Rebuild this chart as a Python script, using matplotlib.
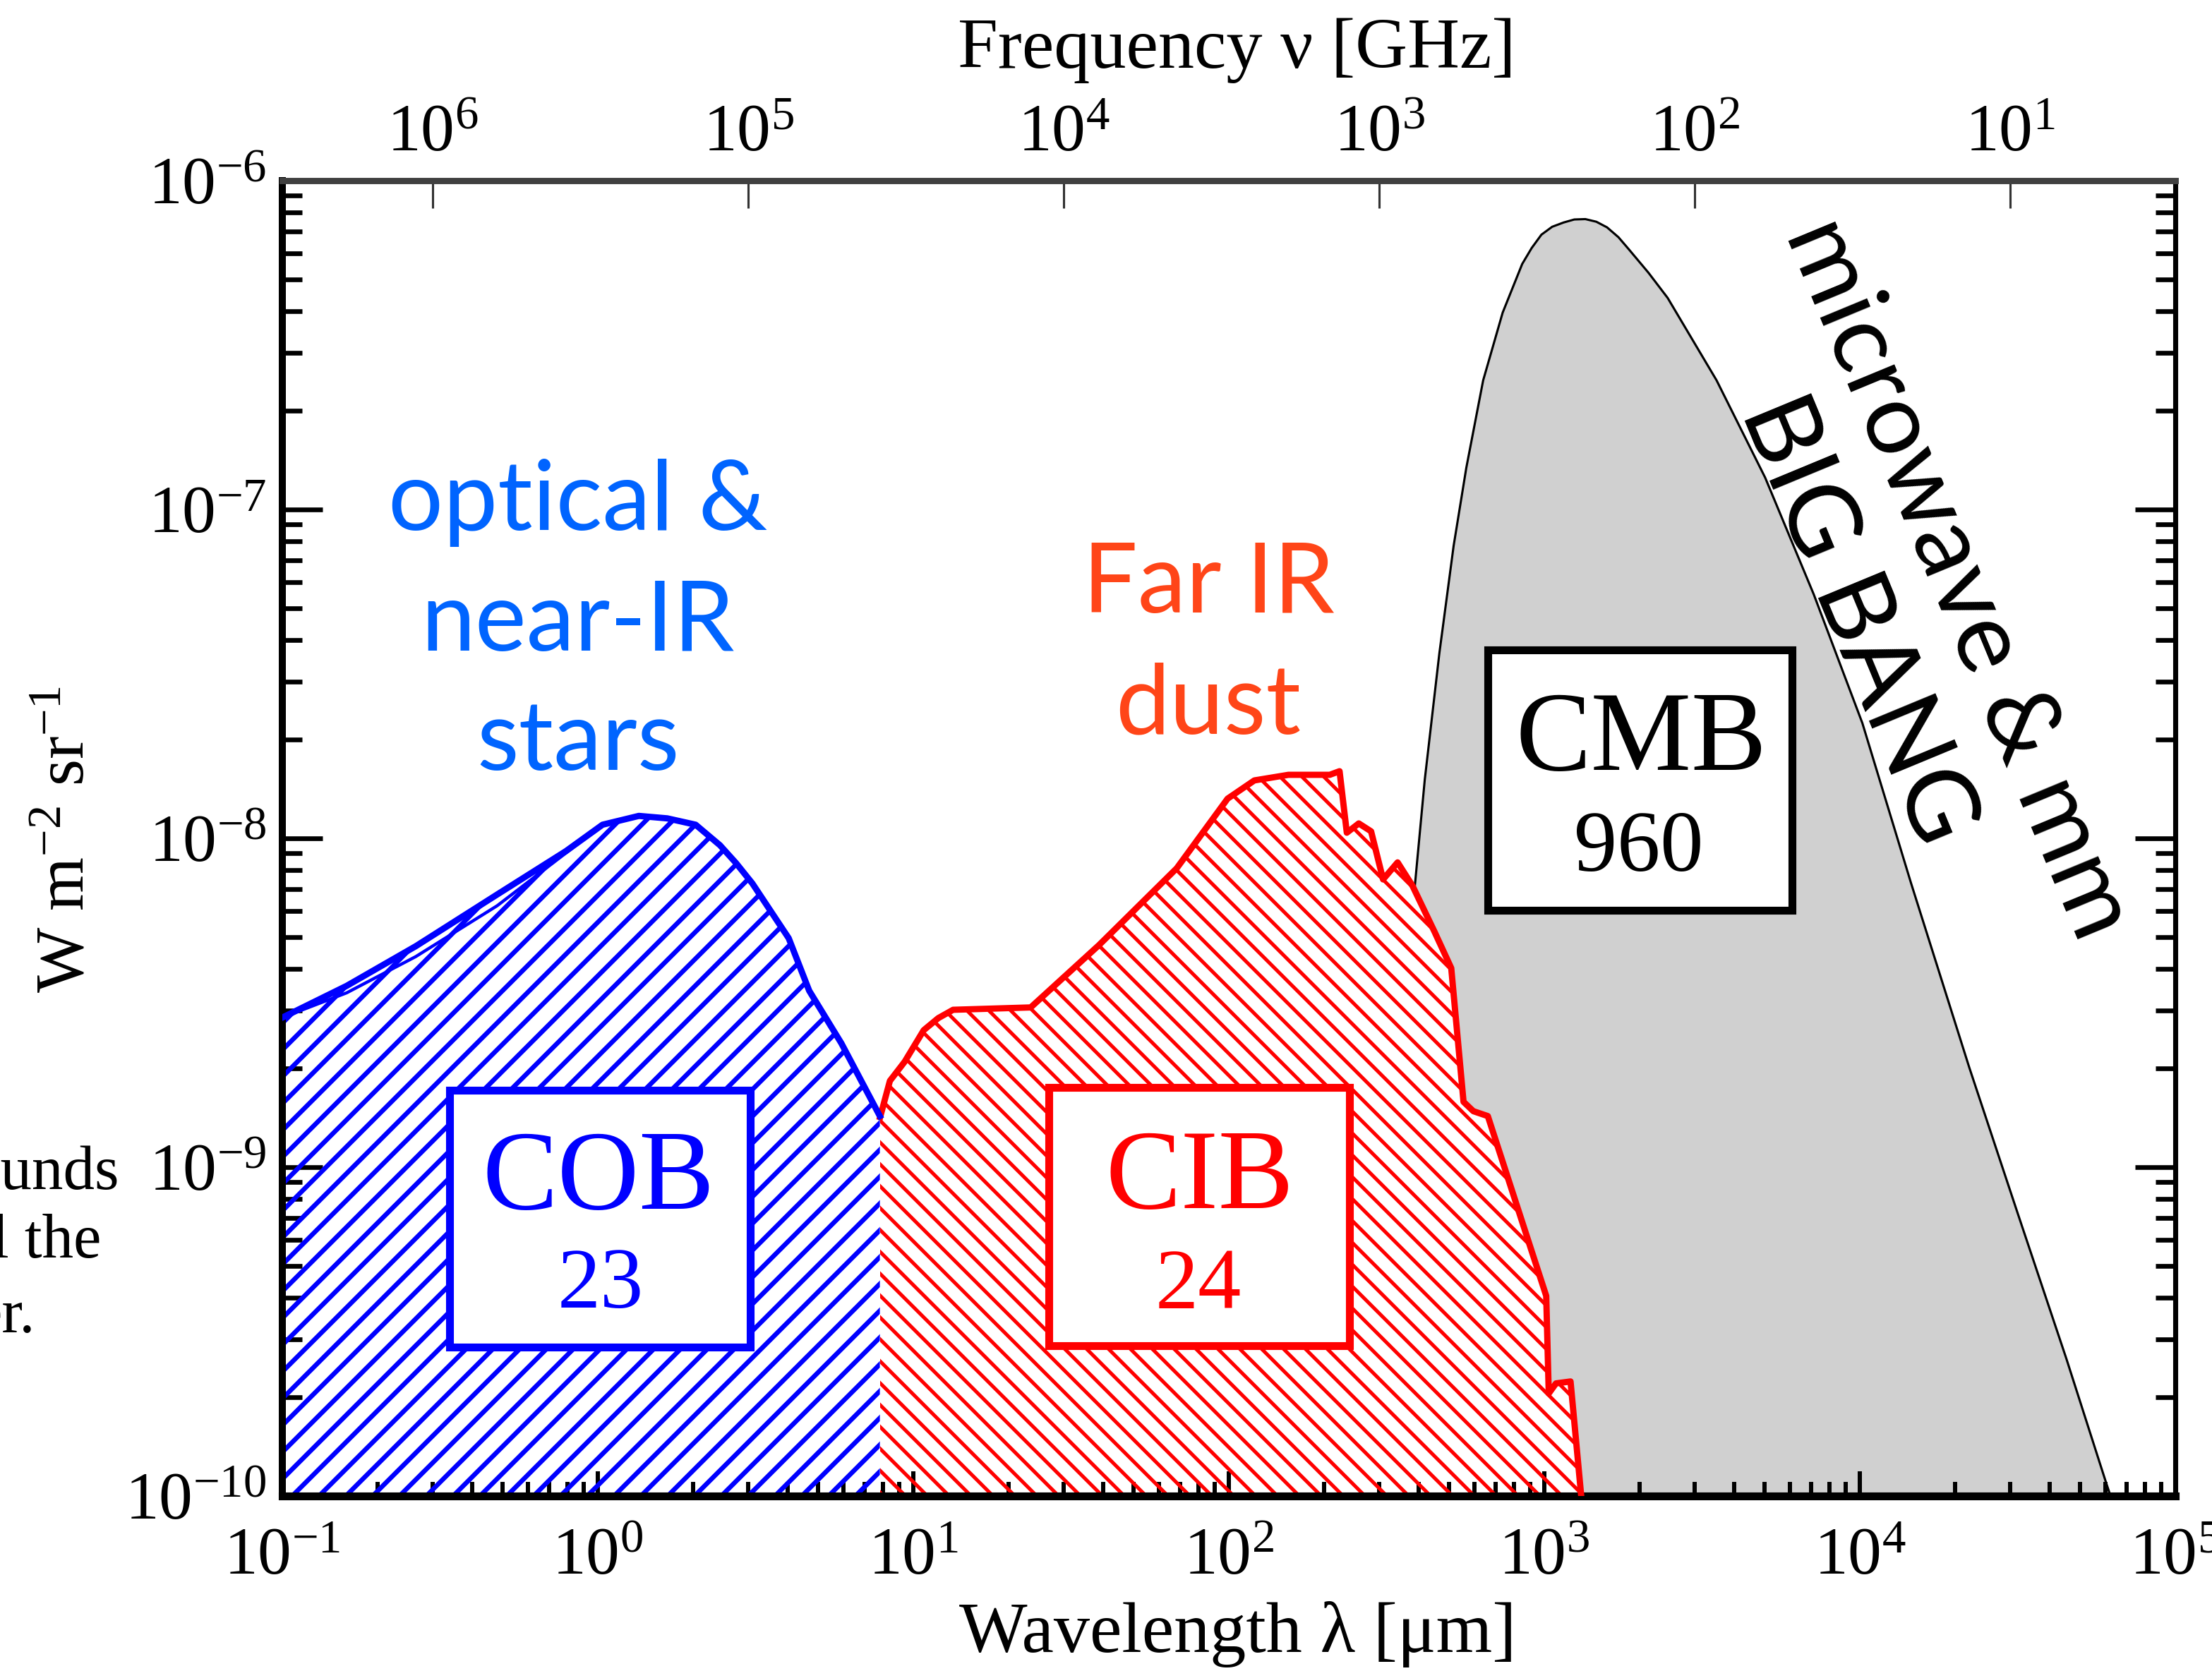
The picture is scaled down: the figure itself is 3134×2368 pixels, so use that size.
import numpy as np
import matplotlib
matplotlib.use("Agg")
import matplotlib.pyplot as plt
from matplotlib.ticker import LogLocator, FuncFormatter, NullFormatter, NullLocator
from matplotlib.patches import Rectangle
from matplotlib.collections import LineCollection

# optical/near-IR background (COB): wavelength [um], nu I_nu [W m^-2 sr^-1]
cob_lam = [0.100, 0.160, 0.265, 0.480, 0.792, 1.035, 1.349, 1.660, 2.042, 2.438,
           2.742, 3.090, 4.027, 4.677, 5.916, 7.834]
cob_val = [2.85e-9, 3.56e-9, 4.70e-9, 6.75e-9, 9.14e-9, 1.10e-8, 1.17e-8, 1.15e-8,
           1.10e-8, 9.53e-9, 8.41e-9, 7.29e-9, 4.97e-9, 3.44e-9, 2.38e-9, 1.43e-9]
# lower COB estimate (thin inner line)
cob_low_lam = [0.100, 0.160, 0.265, 0.480, 0.792, 1.035]
cob_low_val = [2.85e-9, 3.39e-9, 4.37e-9, 6.24e-9, 9.02e-9, 1.10e-8]

# far-IR background (CIB)
cib_lam = [7.85, 8.43, 9.38, 10.79, 12.0, 13.37, 23.55, 38.73, 68.39, 99.1, 120.5,
           154.5, 208.9, 224.4, 236.6, 258.2, 282.5, 308.3, 342.8, 381.9, 448.7,
           507.0, 554.6, 595.7, 662.2, 1014, 1033, 1089, 1211, 1324]
cib_val = [1.42e-9, 1.83e-9, 2.09e-9, 2.61e-9, 2.84e-9, 3.01e-9, 3.06e-9, 4.73e-9,
           8.11e-9, 1.32e-8, 1.50e-8, 1.56e-8, 1.56e-8, 1.60e-8, 1.04e-8, 1.11e-8,
           1.05e-8, 7.50e-9, 8.45e-9, 7.18e-9, 5.20e-9, 4.03e-9, 1.58e-9, 1.48e-9,
           1.43e-9, 4.06e-10, 2.05e-10, 2.20e-10, 2.23e-10, 8.9e-11]

# cosmic microwave background (CMB)
cmb_lam = [251, 282, 316, 355, 390, 418, 465, 516, 566, 640, 738, 851, 912, 979,
           1059, 1151, 1245, 1349, 1462, 1581, 1718, 1854, 2138, 2460, 3516, 5012,
           7145, 10190, 14520, 22230, 31700, 45190, 60120, 67600]
cmb_val = [1e-11, 8.9e-11, 5.6e-10, 2.8e-9, 7.41e-9, 1.51e-8, 3.66e-8, 7.76e-8,
           1.34e-7, 2.47e-7, 3.97e-7, 5.58e-7, 6.24e-7, 6.85e-7, 7.24e-7, 7.46e-7,
           7.62e-7, 7.64e-7, 7.50e-7, 7.21e-7, 6.73e-7, 6.18e-7, 5.25e-7, 4.40e-7,
           2.47e-7, 1.25e-7, 5.52e-8, 2.24e-8, 7.33e-9, 2.01e-9, 7.21e-10, 2.61e-10,
           1.11e-10, 7.9e-11]

# integrated intensities [nW m^-2 sr^-1]
box_names = ["COB", "CIB", "CMB"]
box_values = ["23", "24", "960"]

plt.rcParams['font.family'] = ['Liberation Serif', 'DejaVu Serif']
plt.rcParams['mathtext.fontset'] = 'custom'
plt.rcParams['mathtext.rm'] = 'Liberation Serif'
plt.rcParams['mathtext.it'] = 'Liberation Serif:italic'

DPI = 160
FIG_W, FIG_H = 3134, 2368
AX_RECT = [0.12763, 0.10473, 0.85578, 0.78716]
fig = plt.figure(figsize=(FIG_W / DPI, FIG_H / DPI), dpi=DPI)
ax = fig.add_axes(AX_RECT)
ax.set_xscale('log')
ax.set_yscale('log')
ax.set_xlim(0.1, 1e5)
ax.set_ylim(1e-10, 1e-6)

floor = 1e-10


def hatch(poly, spacing, slope, color, lw):
    # diagonal hatch lines (horizontal spacing in pixels), clipped to the filled area
    W = AX_RECT[2] * FIG_W
    H = AX_RECT[3] * FIG_H
    segs = []
    for c in np.arange(-H - W, W + H, spacing):
        if slope > 0:
            segs.append([(c / W, 0), ((c + H) / W, 1)])
        else:
            segs.append([(c / W, 1), ((c + H) / W, 0)])
    lc = LineCollection(segs, colors=color, linewidths=lw, transform=ax.transAxes,
                        zorder=1.6)
    lc.set_clip_path(poly.get_paths()[0], ax.transData)
    ax.add_collection(lc, autolim=False)
    lc.set_clip_box(ax.bbox)


# CMB grey area
ax.fill_between(cmb_lam, cmb_val, floor, facecolor='#d0d0d0', edgecolor='none', zorder=1)
ax.plot(cmb_lam, cmb_val, color='black', lw=1.4, zorder=1.2)

# CIB hatched area
cib_fill = ax.fill_between(cib_lam, cib_val, floor, facecolor='white', edgecolor='none',
                           zorder=1.5)
hatch(cib_fill, 31, -1, '#ff0000', 2.3)
ax.plot(cib_lam, cib_val, color='#ff0000', lw=4.0, solid_joinstyle='round', zorder=3)

# COB hatched area
cob_fill = ax.fill_between(cob_lam, cob_val, floor, facecolor='white', edgecolor='none',
                           zorder=1.5)
hatch(cob_fill, 38, 1, '#0000ff', 3.0)
ax.plot(cob_lam, cob_val, color='#0000ff', lw=4.0, solid_joinstyle='round', zorder=3)
ax.plot(cob_low_lam, cob_low_val, color='#0000ff', lw=2.0, zorder=3)

# boxes with integrated intensities
box_specs = [((0.0882, 0.1132), 0.1590, 0.1953, '#0000ff', (0.1669, 0.2393), (0.1680, 0.1593)),
             ((0.4049, 0.1141), 0.1587, 0.1965, '#ff0000', (0.4847, 0.2398), (0.4840, 0.1584)),
             ((0.6370, 0.4453), 0.1605, 0.1977, 'black', (0.7178, 0.5730), (0.7166, 0.4914))]
for name, val, (xy, w, h, col, p1, p2) in zip(box_names, box_values, box_specs):
    ax.add_patch(Rectangle(xy, w, h, transform=ax.transAxes, facecolor='white',
                           edgecolor=col, lw=5, zorder=4))
    ax.text(p1[0], p1[1], name, transform=ax.transAxes, color=col, fontsize=72,
            ha='center', va='center', zorder=5)
    ax.text(p2[0], p2[1], val, transform=ax.transAxes, color=col, fontsize=55,
            ha='center', va='center', zorder=5)

# coloured annotations
sans = ['Lato', 'DejaVu Sans']
blue_txt = '#0064ff'
orange_txt = '#ff4518'
for s, yb in zip(["optical &", "near-IR", "stars"], [0.7342, 0.6428, 0.5518]):
    ax.text(0.1562, yb, s, transform=ax.transAxes, color=blue_txt, fontsize=62,
            family=sans, ha='center', va='baseline', zorder=5)
for s, yb in zip(["Far IR", "dust"], [0.6716, 0.5796]):
    ax.text(0.4892, yb, s, transform=ax.transAxes, color=orange_txt, fontsize=62,
            family=sans, ha='center', va='baseline', zorder=5)
ax.text(0.8853, 0.6977, "microwave & mm", transform=ax.transAxes, color='black',
        fontsize=64, family=sans, rotation=-67.5, ha='center', va='center', zorder=5)
ax.text(0.8320, 0.6660, "BIG BANG", transform=ax.transAxes, color='black',
        fontsize=64, family=sans, rotation=-67.5, ha='center', va='center', zorder=5)


def pow10(v, pos):
    return r'$\mathregular{10^{%d}}$' % int(round(np.log10(v)))


for axis in (ax.xaxis, ax.yaxis):
    axis.set_major_locator(LogLocator(base=10, numticks=20))
    axis.set_minor_locator(LogLocator(base=10, subs=np.arange(2, 10), numticks=20))
    axis.set_major_formatter(FuncFormatter(pow10))
    axis.set_minor_formatter(NullFormatter())

ax.tick_params(axis='y', which='both', direction='in', left=True, right=True,
               labelsize=43, pad=10)
ax.tick_params(axis='y', which='major', length=25.6, width=3.0)
ax.tick_params(axis='y', which='minor', length=12.4, width=3.0)
ax.tick_params(axis='x', which='both', direction='in', bottom=True, top=False,
               labelsize=43, pad=20)
ax.tick_params(axis='x', which='major', length=15.8, width=2.7)
ax.tick_params(axis='x', which='minor', length=9, width=2.7)

ax.spines['left'].set_linewidth(4.5)
ax.spines['bottom'].set_linewidth(5)
ax.spines['right'].set_linewidth(3.2)
ax.spines['top'].set_visible(False)

ax.set_xlabel("Wavelength λ [μm]", fontsize=46, va='center')
ax.xaxis.set_label_coords(0.5046, -0.1052)
ax.set_ylabel(r"W m$^{-2}$ sr$^{-1}$", fontsize=44, va='center')
ax.yaxis.set_label_coords(-0.1140, 0.499)

# frequency axis on top: nu[GHz] = 3e5 / lambda[um]
ax2 = ax.twiny()
ax2.set_xscale('log')
ax2.set_xlim(3e5 / 0.1, 3e5 / 1e5)
ax2.xaxis.set_major_locator(LogLocator(base=10, numticks=20))
ax2.xaxis.set_minor_locator(NullLocator())
ax2.xaxis.set_major_formatter(FuncFormatter(pow10))
ax2.tick_params(axis='x', which='major', direction='in', length=17.5, width=1.4,
                color='#333333', labelsize=43, pad=10)
for side in ('left', 'right', 'bottom'):
    ax2.spines[side].set_visible(False)
ax2.spines['top'].set_linewidth(4)
ax2.spines['top'].set_color('#404040')
ax2.set_xlabel("Frequency ν [GHz]", fontsize=46, va='center')
ax2.xaxis.set_label_coords(0.5041, 1.0990)

# fragments of the surrounding page text, cut by the left border
fig.text(169 / 3134, 1 - 1685.5 / 2368, "ounds", fontsize=40, ha='right', va='baseline')
fig.text(143.5 / 3134, 1 - 1782 / 2368, "l the", fontsize=40, ha='right', va='baseline')
fig.text(50 / 3134, 1 - 1887.6 / 2368, "er.", fontsize=40, ha='right', va='baseline')

fig.savefig("out.png", dpi=DPI)
